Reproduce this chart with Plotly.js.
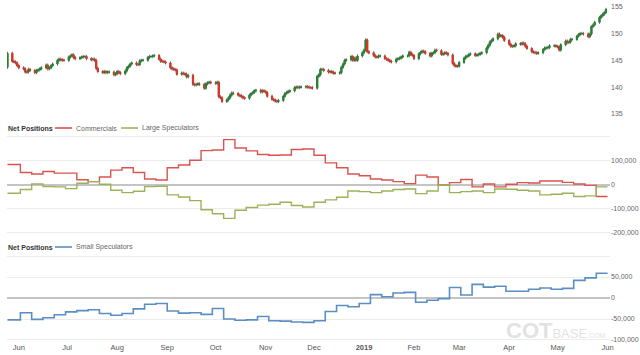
<!DOCTYPE html>
<html>
<head>
<meta charset="utf-8">
<script src="https://cdn.plot.ly/plotly-3.0.1.min.js"></script>
<style>html,body{margin:0;padding:0;background:#fff;}#chart{width:640px;height:355px;}</style>
</head>
<body>
<div id="chart"></div>
<script>
// ---------- DATA ----------
// Price candles (daily, weekdays). First candle: Fri 2018-05-25, then weeks starting Mon 2018-05-28.
const firstDate = '2018-05-25';
const firstOpen = 143.7;
const firstClose = 146.3;
const firstWeekMonday = '2018-05-28';
const weeklyCloses = [
  [144.8,144.7,144.5,144.0,143.6],
  [143.4,142.8,142.8,143.3,143.1],
  [142.7,143.1,143.2,143.4,143.6],
  [144.1,143.4,143.6,144.0,144.3],
  [145.0,145.2,145.1,145.0,145.0],
  [145.6,145.8,146.0,145.5,145.3],
  [145.5,145.6,145.7,145.7,145.3],
  [145.1,145.2,145.0,143.5,142.9],
  [142.7,142.9,142.7,142.8,142.8],
  [142.3,142.5,142.9,142.7,142.5],
  [143.0,143.6,143.9,144.3,144.5],
  [144.2,144.2,144.9,145.0,145.0],
  [145.5,145.7,145.7,145.8,145.9],
  [145.2,144.8,144.8,144.7,144.5],
  [143.6,143.4,143.3,143.2,142.4],
  [142.6,142.5,142.4,141.9,142.2],
  [140.5,140.4,140.5,140.6,140.5],
  [139.8,140.6,140.8,140.9,140.8],
  [140.7,140.9,138.2,138.0,137.3],
  [137.6,138.0,138.5,138.9,138.8],
  [138.5,138.4,138.2,138.0,137.9],
  [138.5,138.8,139.0,139.3,139.4],
  [139.1,139.3,139.2,139.0,138.3],
  [137.7,137.6,137.4,137.3,137.5],
  [138.3,138.8,139.0,139.2,139.3],
  [139.9,140.0,139.9,140.0,140.0],
  [140.1,140.0,139.9,139.9,139.8],
  [142.0,142.3,143.3,143.3,143.1],
  [142.8,142.9,142.8,142.6,142.6],
  [142.7,143.7,144.3,145.0,145.1],
  [145.7,145.0,145.4,145.0,145.8],
  [146.4,146.9,148.8,146.6,146.4],
  [145.9,145.6,145.6,145.8,145.8],
  [145.3,145.2,145.0,144.8,144.7],
  [145.2,145.3,145.4,145.6,145.8],
  [145.8,146.5,146.1,145.9,145.3],
  [146.2,146.5,146.7,146.6,146.3],
  [145.8,146.3,146.4,146.9,146.8],
  [146.1,146.2,146.4,146.3,146.0],
  [144.4,144.0,143.9,143.9,144.6],
  [145.4,145.7,145.8,146.1,146.2],
  [145.9,146.0,146.1,146.3,146.4],
  [147.3,147.8,148.4,148.7,149.0],
  [149.9,149.5,149.6,149.3,148.7],
  [148.0,147.6,147.6,147.7,148.1],
  [148.0,148.2,148.1,147.6,147.2],
  [146.6,146.5,146.4,146.3,146.4],
  [147.0,147.3,147.3,147.4,147.7],
  [147.7,147.6,147.5,146.9,147.9],
  [148.6,148.3,148.4,148.9,148.9],
  [149.5,149.8,150.0,150.0,149.9],
  [149.4,149.9,151.3,151.6,152.1],
  [153.0,153.3,153.6,153.9,154.5]
];
const wick = 0.3;

// Weekly net positions (contracts). First value from 2018-05-25, then weekly from 2018-06-02.
const posFirstDate = '2018-05-25';
const posWeeklyStart = '2018-06-02';
const posEndDate = '2019-06-01';
const commercials = [85500,52000,45500,56500,49500,49500,22000,14000,33000,62000,72000,52000,25000,21000,72000,83000,103000,143000,146000,189000,154000,142000,127000,124000,125000,148000,150000,124000,92000,72000,45500,38600,25000,21000,14000,5500,41000,33000,0,10000,23000,-8000,4000,-8000,3000,10000,8000,16500,16500,11000,4000,-1400,-48000];
const largeSpeculators = [-34500,-19000,4000,-7000,-8000,-15000,7000,14000,3000,-22000,-32000,-26000,-7000,-5500,-41000,-50000,-65000,-103000,-120000,-139000,-105000,-94000,-84000,-80000,-72000,-85500,-92000,-72000,-62000,-51000,-25000,-27500,-32000,-25000,-19000,-16500,-36000,-25000,0,-32000,-27500,-25000,-32000,-16500,-18000,-22000,-25000,-41000,-38600,-34500,-48000,-45500,-8000];
const smallSpeculators = [-52000,-35000,-51000,-47000,-40000,-33000,-30000,-28000,-37000,-41000,-37000,-26000,-15000,-13000,-31000,-36000,-35000,-39000,-25000,-50000,-53000,-52000,-44000,-54000,-55000,-57000,-58000,-54000,-32000,-18000,-21000,-13000,8000,3000,12000,13500,-10000,-5500,-1500,25000,7000,32500,26000,28000,16000,16000,21000,24000,21000,23000,42000,48000,59000];

// Axis tick labels
const monthTicks = ['2018-06-01','2018-07-01','2018-08-01','2018-09-01','2018-10-01','2018-11-01','2018-12-01','2019-01-01','2019-02-01','2019-03-01','2019-04-01','2019-05-01','2019-06-01'];
const monthLabels = ['Jun','Jul','Aug','Sep','Oct','Nov','Dec','<b>2019</b>','Feb','Mar','Apr','May','Jun'];
const priceTicks = [135,140,145,150,155];
const netTicks = [-200000,-100000,0,100000,200000];
const netLabels = ['-200,000','-100,000','0','100,000',''];
const smallTicks = [-100000,-50000,0,50000,100000];
const smallLabels = ['-100,000','-50,000','0','50,000',''];
const seriesNames = ['Commercials','Large Speculators','Small Speculators'];
const panelLabel = 'Net Positions';

// ---------- BUILD ----------
function addDays(s, n) {
  const d = new Date(s + 'T00:00:00Z');
  d.setUTCDate(d.getUTCDate() + n);
  return d.toISOString().slice(0, 10);
}
const cDates = [firstDate], cOpen = [firstOpen], cClose = [firstClose];
weeklyCloses.forEach((wk, w) => {
  wk.forEach((c, d) => {
    cDates.push(addDays(firstWeekMonday, 7 * w + d));
    cOpen.push(cClose[cClose.length - 1]);
    cClose.push(c);
  });
});
const bodyTop = cOpen.map((o, i) => Math.max(o, cClose[i]));
const bodyBot = cOpen.map((o, i) => Math.min(o, cClose[i]));
const cHigh = bodyTop.map(v => v + wick);
const cLow = bodyBot.map(v => v - wick);

const posDates = [posFirstDate];
for (let k = 1; k < commercials.length; k++) posDates.push(addDays(posWeeklyStart, 7 * (k - 1)));
posDates.push(posEndDate);
const ext = a => a.concat([a[a.length - 1]]);

const FONT = '"Liberation Sans", Arial, sans-serif';
const RED = '#d9534f', GREEN = '#9cb25a', BLUE = '#5b8ec4';
const UP = '#1f8a2e', DOWN = '#e8321f', WICK = '#3a3a3a';

const traces = [
  { // wicks
    type: 'candlestick', x: cDates, open: cOpen, high: cHigh, low: cLow, close: cClose,
    xaxis: 'x', yaxis: 'y', showlegend: false, hoverinfo: 'skip',
    increasing: {line: {color: WICK, width: 0.7}, fillcolor: WICK},
    decreasing: {line: {color: WICK, width: 0.7}, fillcolor: WICK},
    whiskerwidth: 0
  },
  { // coloured bodies
    type: 'candlestick', x: cDates, open: cOpen, high: bodyTop, low: bodyBot, close: cClose,
    xaxis: 'x', yaxis: 'y', showlegend: false, hoverinfo: 'skip',
    increasing: {line: {color: UP, width: 0.9}, fillcolor: UP},
    decreasing: {line: {color: DOWN, width: 0.9}, fillcolor: DOWN},
    whiskerwidth: 0
  },
  {
    type: 'scatter', mode: 'lines', name: seriesNames[0], x: posDates, y: ext(commercials),
    xaxis: 'x', yaxis: 'y2', line: {color: RED, width: 1.4, shape: 'hv'}, showlegend: false
  },
  {
    type: 'scatter', mode: 'lines', name: seriesNames[1], x: posDates, y: ext(largeSpeculators),
    xaxis: 'x', yaxis: 'y2', line: {color: GREEN, width: 1.4, shape: 'hv'}, showlegend: false
  },
  {
    type: 'scatter', mode: 'lines', name: seriesNames[2], x: posDates, y: ext(smallSpeculators),
    xaxis: 'x', yaxis: 'y3', line: {color: BLUE, width: 1.6, shape: 'hv'}, showlegend: false
  }
];

// pixel helpers for legend placement (plot area: x 7..610, y 0..341)
const PX = p => (p - 7) / 603;
const PY = p => (341 - p) / 341;
const legRowMid = PY(128), legRowBot = PY(247);
const legText = {family: FONT, size: 7, color: '#666'};
function sample(x0, x1, y, color) {
  return {type: 'line', xref: 'paper', yref: 'paper', x0: PX(x0), x1: PX(x1), y0: y, y1: y,
          line: {color: color, width: 1.6}};
}
function label(x, y, text, font) {
  return {xref: 'paper', yref: 'paper', x: PX(x), y: y, xanchor: 'left', yanchor: 'middle',
          text: text, showarrow: false, font: font};
}

const tickFont = {family: FONT, size: 7, color: '#666'};
const layout = {
  width: 640, height: 355,
  margin: {l: 7, r: 30, t: 0, b: 14},
  paper_bgcolor: '#fff', plot_bgcolor: '#fff',
  font: {family: FONT, size: 7, color: '#555'},
  boxgap: 0, boxmode: 'overlay',
  showlegend: false,
  xaxis: {
    type: 'date', anchor: 'y3',
    range: ['2018-05-24 17:00', '2019-06-02 12:00'],
    tickmode: 'array', tickvals: monthTicks, ticktext: monthLabels,
    showgrid: false, zeroline: false, showline: false, ticks: '',
    tickfont: {family: FONT, size: 7.5, color: '#555'},
    rangeslider: {visible: false}, fixedrange: true
  },
  yaxis: {
    domain: [0.654, 1], range: [134.23, 156.25], side: 'right', anchor: 'x',
    tickmode: 'array', tickvals: priceTicks,
    showgrid: false, zeroline: false, showline: false, ticks: '',
    tickfont: tickFont, fixedrange: true
  },
  yaxis2: {
    domain: [0.3109, 0.6041], range: [-208300, 208300], side: 'right', anchor: 'x',
    tickmode: 'array', tickvals: netTicks, ticktext: netLabels,
    showgrid: true, gridcolor: '#ebebeb', gridwidth: 1,
    zeroline: true, zerolinecolor: '#c4c4c4', zerolinewidth: 1.5,
    showline: false, ticks: '', tickfont: tickFont, fixedrange: true
  },
  yaxis3: {
    domain: [0, 0.2551], range: [-102400, 104800], side: 'right', anchor: 'x',
    tickmode: 'array', tickvals: smallTicks, ticktext: smallLabels,
    showgrid: true, gridcolor: '#ebebeb', gridwidth: 1,
    zeroline: true, zerolinecolor: '#c4c4c4', zerolinewidth: 1.5,
    showline: false, ticks: '', tickfont: tickFont, fixedrange: true
  },
  shapes: [
    sample(55, 72, legRowMid, RED),
    sample(121, 138, legRowMid, GREEN),
    sample(55, 72, legRowBot, BLUE)
  ],
  annotations: [
    label(6, legRowMid, '<b>' + panelLabel + '</b>', {family: FONT, size: 7, color: '#333'}),
    label(74, legRowMid, seriesNames[0], legText),
    label(140, legRowMid, seriesNames[1], legText),
    label(6, legRowBot, '<b>' + panelLabel + '</b>', {family: FONT, size: 7, color: '#333'}),
    label(74, legRowBot, seriesNames[2], legText),
    {xref: 'paper', yref: 'paper', x: PX(608), y: PY(345), xanchor: 'right', yanchor: 'bottom',
     text: '<span style="font-size:22px"><b>COT</b></span><span style="font-size:13px">BASE</span><span style="font-size:7px">.COM</span>',
     showarrow: false, font: {family: FONT, color: '#e2e2e2'}}
  ]
};

Plotly.newPlot('chart', traces, layout, {staticPlot: true, displayModeBar: false});
</script>
</body>
</html>
